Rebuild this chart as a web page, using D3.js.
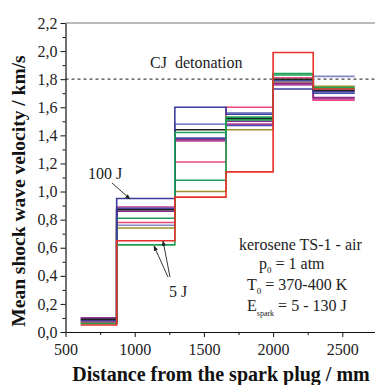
<!DOCTYPE html>
<html><head><meta charset="utf-8">
<script src="https://cdn.jsdelivr.net/npm/d3@7"></script>
<style>body{margin:0;background:#fff}svg{display:block}text{font-family:"Liberation Serif","Times New Roman",serif}</style>
</head><body>
<svg id="c" width="375" height="385"></svg>
<script>
// Segment boundaries (mm)
const boundaries = [610, 870, 1290, 1660, 2000, 2290, 2590];
// Series: mean velocity per segment (km/s)
const seriesNames = ["lavender","olive","pink","magenta","purple","blue2","black","green2","blue","green","red"];
const seriesColors = ["#8088c8","#a0922e","#e84a7a","#c0409a","#8a2a8a","#4a4aa8","#222222","#1f9e5a","#3c3c9c","#1ea050","#e8302a"];
const vLavender = [0.08, 0.76, 1.48, 1.56, 1.76, 1.82];
const vOlive    = [0.07, 0.74, 1.00, 1.44, 1.78, 1.75];
const vPink     = [0.07, 0.78, 1.21, 1.60, 1.81, 1.65];
const vMagenta  = [0.10, 0.89, 1.36, 1.48, 1.76, 1.66];
const vPurple   = [0.10, 0.86, 1.37, 1.50, 1.77, 1.67];
const vBlue2    = [0.09, 0.88, 1.38, 1.47, 1.79, 1.70];
const vBlack    = [0.09, 0.87, 1.44, 1.52, 1.80, 1.72];
const vGreen2   = [0.06, 0.81, 1.08, 1.51, 1.83, 1.73];
const vBlue     = [0.08, 0.95, 1.60, 1.55, 1.73, 1.71];
const vGreen    = [0.06, 0.62, 1.42, 1.53, 1.84, 1.74];
const vRed      = [0.05, 0.65, 0.96, 1.14, 1.99, 1.73];
const seriesValues = [vLavender,vOlive,vPink,vMagenta,vPurple,vBlue2,vBlack,vGreen2,vBlue,vGreen,vRed];
const xTicks = [500, 1000, 1500, 2000, 2500];
const yTicks = [0,0.2,0.4,0.6,0.8,1.0,1.2,1.4,1.6,1.8,2.0,2.2];
const cjLevel = 1.8;

const svg = d3.select("#c");
const L = 65.5, T = 23, B = 332;
const x = d3.scaleLinear().domain([500, 3000]).range([L, L + 2500 * 69.2 / 500]);
const y = d3.scaleLinear().domain([0, 2.2]).range([B, T]);
const fmt = d => d.toFixed(1).replace(".", ",");

// top frame line
svg.append("line").attr("x1", L).attr("x2", 375).attr("y1", T).attr("y2", T)
  .attr("stroke", "#777").attr("stroke-width", 1.2);

// CJ dashed line
svg.append("line").attr("x1", L).attr("x2", 375).attr("y1", y(cjLevel)).attr("y2", y(cjLevel))
  .attr("stroke", "#444").attr("stroke-width", 1.2).attr("stroke-dasharray", "3,3");

// series
const line = d3.line().x(d => x(d[0])).y(d => y(d[1])).curve(d3.curveStepAfter);
seriesValues.forEach((vals, i) => {
  const pts = boundaries.map((b, j) => [b, vals[Math.min(j, vals.length - 1)]]);
  svg.append("path").attr("d", line(pts)).attr("fill", "none")
    .attr("stroke", seriesColors[i]).attr("stroke-width", 1.6);
});

// axes
const xAxis = svg.append("g").attr("transform", `translate(0,${B})`)
  .call(d3.axisBottom(x).tickValues(xTicks).tickSize(5).tickSizeOuter(0).tickFormat(d3.format("d")));
svg.append("g").attr("transform", `translate(0,${B})`)
  .call(d3.axisBottom(x).tickValues([750,1250,1750,2250,2750]).tickSize(3).tickFormat(""))
  .call(g => g.select(".domain").remove());
const yAxis = svg.append("g").attr("transform", `translate(${L},0)`)
  .call(d3.axisLeft(y).tickValues(yTicks).tickSize(5).tickSizeOuter(0).tickFormat(fmt));
svg.append("g").attr("transform", `translate(${L},0)`)
  .call(d3.axisLeft(y).tickValues(d3.range(0.1, 2.2, 0.2)).tickSize(3).tickFormat(""))
  .call(g => g.select(".domain").remove());
svg.selectAll(".domain").attr("stroke", "#111").attr("stroke-width", 1.2);
svg.selectAll(".tick line").attr("stroke", "#111");
xAxis.selectAll("text").attr("font-size", 16).attr("fill", "#222").attr("dy", "0.95em");
yAxis.selectAll("text").attr("font-size", 16).attr("fill", "#222").attr("x", -8);

// axis titles
svg.append("text").attr("x", 221).attr("y", 381).attr("text-anchor", "middle")
  .attr("font-size", 20).attr("font-weight", "bold").attr("fill", "#111")
  .text("Distance from the spark plug / mm");
svg.append("text").attr("transform", "translate(25,191) rotate(-90)").attr("text-anchor", "middle")
  .attr("font-size", 19.5).attr("font-weight", "bold").attr("fill", "#111")
  .text("Mean shock wave velocity / km/s");

// CJ label
svg.append("text").attr("x", 150).attr("y", 68).attr("font-size", 16).attr("fill", "#222")
  .attr("xml:space", "preserve").style("white-space", "pre").text("CJ  detonation");

// annotations
svg.append("text").attr("x", 88).attr("y", 179).attr("font-size", 16).attr("fill", "#222").text("100 J");
svg.append("text").attr("x", 169).attr("y", 297).attr("font-size", 16).attr("fill", "#222").text("5 J");
const defs = svg.append("defs");
defs.append("marker").attr("id", "ah").attr("viewBox", "0 0 10 10").attr("refX", 9).attr("refY", 5)
  .attr("markerWidth", 6).attr("markerHeight", 6).attr("orient", "auto")
  .append("path").attr("d", "M0,1 L10,5 L0,9 z").attr("fill", "#222");
[[112, 183, 130, 199], [168, 277, 154, 246], [170, 277, 163, 241]].forEach(a => {
  svg.append("line").attr("x1", a[0]).attr("y1", a[1]).attr("x2", a[2]).attr("y2", a[3])
    .attr("stroke", "#222").attr("stroke-width", 0.9).attr("marker-end", "url(#ah)");
});

// condition text block
const tb = svg.append("g").attr("fill", "#222").attr("font-size", 16);
tb.append("text").attr("x", 239).attr("y", 250).text("kerosene TS-1 - air");
const t2 = tb.append("text").attr("x", 259).attr("y", 269);
t2.append("tspan").text("p");
t2.append("tspan").attr("font-size", 9).attr("dy", 4).text("0");
t2.append("tspan").attr("dy", -4).text(" = 1 atm");
const t3 = tb.append("text").attr("x", 247).attr("y", 290);
t3.append("tspan").text("T");
t3.append("tspan").attr("font-size", 9).attr("dy", 4).text("0");
t3.append("tspan").attr("dy", -4).text(" = 370-400 K");
const t4 = tb.append("text").attr("x", 247).attr("y", 311);
t4.append("tspan").text("E");
t4.append("tspan").attr("font-size", 8).attr("dy", 5).text("spark");
t4.append("tspan").attr("dy", -5).text(" = 5 - 130 J");
</script>
</body></html>
